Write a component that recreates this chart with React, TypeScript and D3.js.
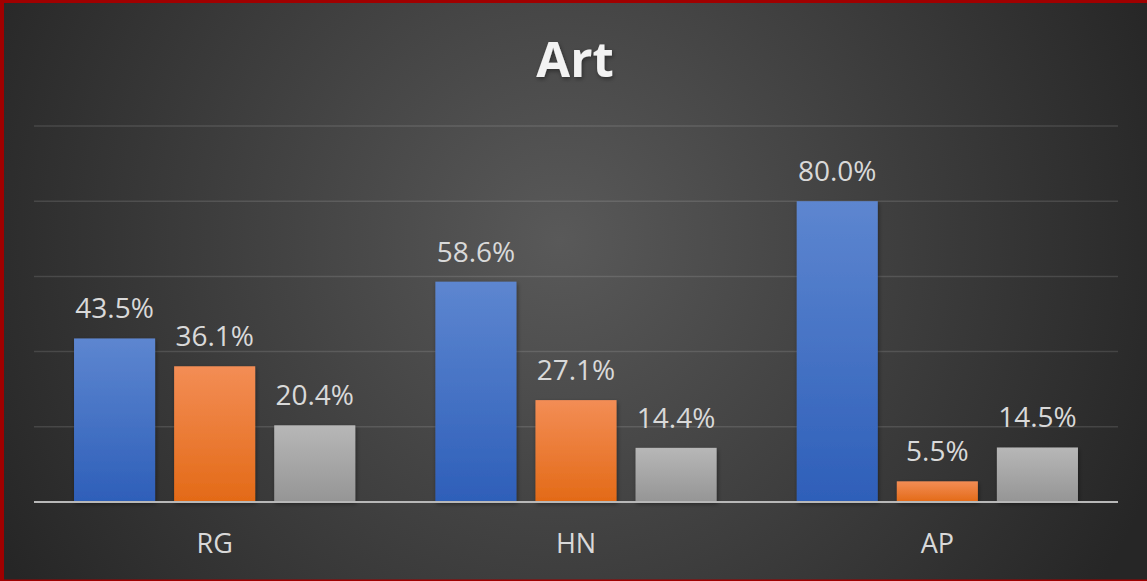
import React, { useEffect, useRef } from "react";
import * as d3 from "d3";

const categories = ["RG", "HN", "AP"];
const seriesNames = ["s1", "s2", "s3"];
const seriesValues = [
  [0.435, 0.586, 0.8],
  [0.361, 0.271, 0.055],
  [0.204, 0.144, 0.145],
];
const yTicks = [0, 0.2, 0.4, 0.6, 0.8, 1.0];
const title = "Art";

const W = 1147;
const H = 581;
const FONT = "'Open Sans', 'Noto Sans', sans-serif";
const grads = [
  ["#5d86d0", "#2e5fb9"],
  ["#f38d55", "#e36a17"],
  ["#b7b7b7", "#959595"],
];

const App = () => {
  const ref = useRef<SVGSVGElement>(null);

  useEffect(() => {
    const svg = d3.select(ref.current);
    svg.selectAll("*").remove();

    const defs = svg.append("defs");
    const bg = defs
      .append("radialGradient")
      .attr("id", "bg")
      .attr("gradientUnits", "userSpaceOnUse")
      .attr("cx", 560)
      .attr("cy", 240)
      .attr("r", 640);
    bg.append("stop").attr("offset", "0%").attr("stop-color", "#595959");
    bg.append("stop").attr("offset", "100%").attr("stop-color", "#262626");

    grads.forEach((g, i) => {
      const lg = defs
        .append("linearGradient")
        .attr("id", "bar" + i)
        .attr("x1", 0)
        .attr("y1", 0)
        .attr("x2", 0)
        .attr("y2", 1);
      lg.append("stop").attr("offset", "0%").attr("stop-color", g[0]);
      lg.append("stop").attr("offset", "100%").attr("stop-color", g[1]);
    });

    const shadow = defs.append("filter").attr("id", "sh").attr("x", "-20%").attr("y", "-20%").attr("width", "140%").attr("height", "140%");
    shadow
      .append("feDropShadow")
      .attr("dx", 1)
      .attr("dy", 2)
      .attr("stdDeviation", 2)
      .attr("flood-color", "#000")
      .attr("flood-opacity", 0.4);

    svg.append("rect").attr("width", W).attr("height", H).attr("fill", "url(#bg)");

    // border
    svg.append("rect").attr("x", 0).attr("y", 0).attr("width", W).attr("height", 3).attr("fill", "#a00000");
    svg.append("rect").attr("x", 0).attr("y", 0).attr("width", 4).attr("height", H).attr("fill", "#a00000");
    svg.append("rect").attr("x", 0).attr("y", H - 1.5).attr("width", W).attr("height", 1.5).attr("fill", "#a00000");

    const x0 = d3.scaleBand().domain(categories).range([34, 1118]);
    const x1 = d3
      .scaleBand()
      .domain(seriesNames)
      .range([0, x0.bandwidth()])
      .paddingInner(0.19)
      .paddingOuter(0.4);
    const y = d3.scaleLinear().domain([0, 1]).range([502, 126]);

    // gridlines
    svg
      .append("g")
      .selectAll("line")
      .data(yTicks.filter((t) => t > 0))
      .enter()
      .append("line")
      .attr("x1", 34)
      .attr("x2", 1118)
      .attr("y1", (d) => y(d))
      .attr("y2", (d) => y(d))
      .attr("stroke", "#ffffff")
      .attr("stroke-opacity", 0.12)
      .attr("stroke-width", 1.5);

    // title
    svg
      .append("text")
      .attr("x", 575)
      .attr("y", 77)
      .attr("text-anchor", "middle")
      .attr("font-family", FONT)
      .attr("font-size", "49px")
      .attr("font-weight", "700")
      .attr("fill", "#f2f2f2")
      .attr("filter", "url(#sh)")
      .text(title);

    seriesValues.forEach((vals, si) => {
      const g = svg.append("g");
      g.selectAll("rect")
        .data(vals)
        .enter()
        .append("rect")
        .attr("x", (d, i) => x0(categories[i])! + x1(seriesNames[si])!)
        .attr("y", (d) => y(d))
        .attr("width", x1.bandwidth())
        .attr("height", (d) => y(0) - y(d))
        .attr("fill", `url(#bar${si})`)
        .attr("filter", "url(#sh)");

      g.selectAll("text")
        .data(vals)
        .enter()
        .append("text")
        .attr("x", (d, i) => x0(categories[i])! + x1(seriesNames[si])! + x1.bandwidth() / 2)
        .attr("y", (d) => y(d) - 20)
        .attr("text-anchor", "middle")
        .attr("font-family", FONT)
        .attr("font-size", "28px")
        .attr("fill", "#d9d9d9")
        .text((d) => (d * 100).toFixed(1) + "%");
    });

    // baseline
    svg
      .append("line")
      .attr("x1", 34)
      .attr("x2", 1118)
      .attr("y1", y(0))
      .attr("y2", y(0))
      .attr("stroke", "#b8b8b8")
      .attr("stroke-width", 2);

    // category labels
    svg
      .append("g")
      .selectAll("text")
      .data(categories)
      .enter()
      .append("text")
      .attr("x", (d) => x0(d)! + x0.bandwidth() / 2)
      .attr("y", 553)
      .attr("text-anchor", "middle")
      .attr("font-family", FONT)
      .attr("font-size", "27px")
      .attr("fill", "#d9d9d9")
      .text((d) => d);
  }, []);

  return (
    <svg
      ref={ref}
      width={W}
      height={H}
      style={{ position: "absolute", left: 0, top: 0, display: "block" }}
    />
  );
};

export default App;
